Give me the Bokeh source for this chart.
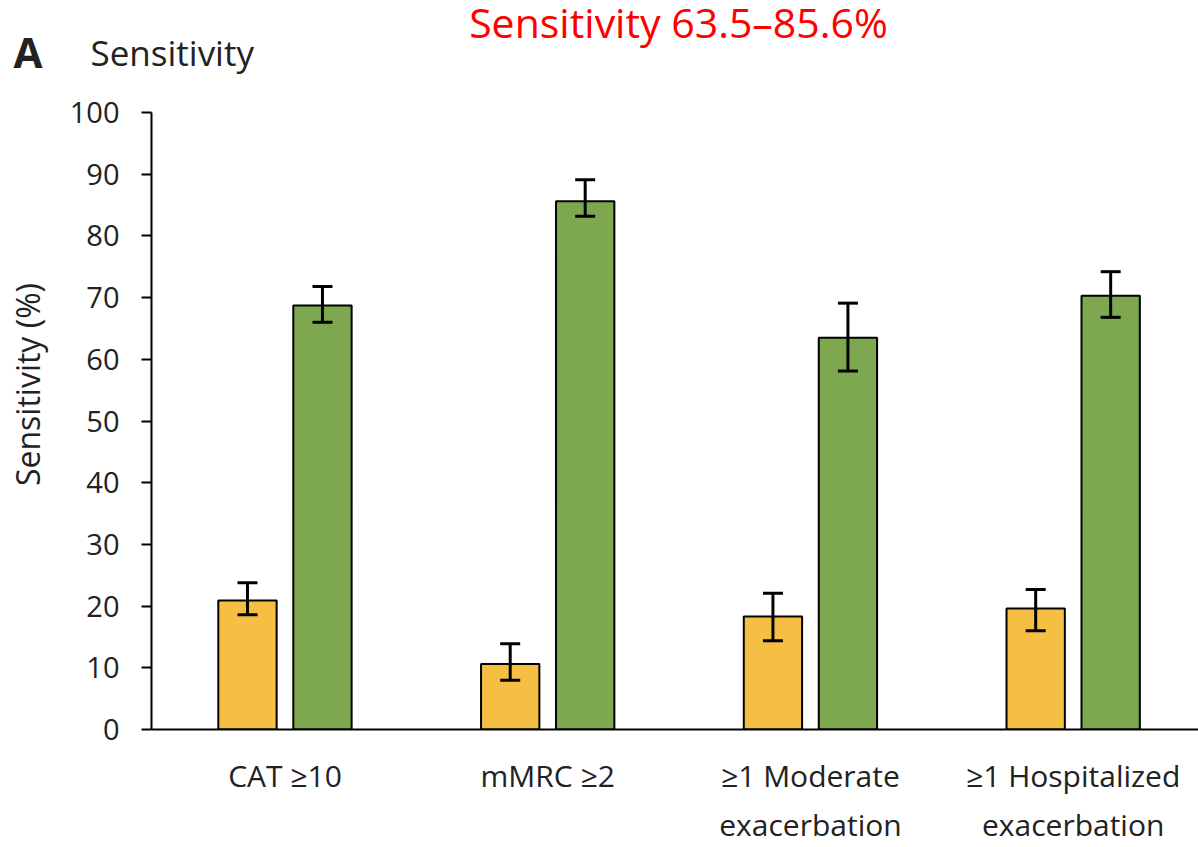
import math
from bokeh.plotting import figure
from bokeh.layouts import column, row
from bokeh.models import (ColumnDataSource, Range1d, FixedTicker, LinearAxis,
                          Whisker, TeeHead, Label)
from bokeh.transform import dodge
from bokeh.embed import file_html
from bokeh.resources import INLINE

# ---- data ----
categories = ["CAT \u226510", "mMRC \u22652",
              "\u22651 Moderate\nexacerbation", "\u22651 Hospitalized\nexacerbation"]
yellow = [20.9, 10.6, 18.3, 19.6]
yellow_lo = [18.6, 8.0, 14.4, 16.0]
yellow_hi = [23.8, 13.9, 22.1, 22.7]
green = [68.7, 85.6, 63.5, 70.3]
green_lo = [66.0, 83.2, 58.1, 66.8]
green_hi = [71.8, 89.1, 69.1, 74.2]
y_ticks = [0, 10, 20, 30, 40, 50, 60, 70, 80, 90, 100]

panel_letter = "A"
panel_name = "Sensitivity"
headline = "Sensitivity 63.5\u201385.6%"
y_label = "Sensitivity (%)"

FONT = "Open Sans"
YEL = "#F5BF43"
GRN = "#7EA84F"
INK = "#222222"

W, H = 1198, 847
HEAD_H = 80
STRIP_W = 60


def blank(width, height):
    f = figure(width=width, height=height, output_backend="svg", toolbar_location=None,
               x_range=Range1d(0, 1), y_range=Range1d(0, 1),
               x_axis_location=None, y_axis_location=None, min_border=0)
    f.frame_align = False
    f.outline_line_color = None
    f.xgrid.visible = False
    f.ygrid.visible = False
    return f


# ---- header strip (texts above the chart) ----
head = blank(W, HEAD_H)
for kw in [
    dict(x=13, y=51, text=panel_letter, text_font_style="bold",
         text_font_size="42px", text_color=INK),
    dict(x=90, y=52, text=panel_name, text_font_size="35px", text_color=INK),
    dict(x=678, y=21, text=headline, text_font_size="41px", text_color="#FF0000",
         text_align="center"),
]:
    head.add_layout(Label(x_units="canvas", y_units="canvas", text_font=FONT,
                          text_baseline="alphabetic", **kw))

# ---- left strip with the rotated y label ----
strip = blank(STRIP_W, H - HEAD_H)
strip.add_layout(Label(x_units="canvas", y_units="canvas", x=27, y=384 - HEAD_H,
                       text=y_label, angle=math.pi / 2, text_align="center",
                       text_baseline="middle", text_font=FONT,
                       text_font_size="32px", text_color=INK))

# ---- main chart ----
xc = [i + 0.5 for i in range(len(categories))]
src = ColumnDataSource(dict(xc=xc, yellow=yellow, ylo=yellow_lo, yhi=yellow_hi,
                            green=green, glo=green_lo, ghi=green_hi))

p = figure(width=W - STRIP_W, height=H - HEAD_H, output_backend="svg",
           toolbar_location=None,
           x_range=Range1d(-0.008, 3.977), y_range=Range1d(0, 100),
           x_axis_location=None, y_axis_location=None,
           min_border_left=151 - STRIP_W, min_border_right=0,
           min_border_top=112 - HEAD_H, min_border_bottom=112)
p.frame_align = False
p.outline_line_color = None
p.xgrid.visible = False
p.ygrid.visible = False

off = 0.1427
bw = 0.222
p.vbar(x=dodge("xc", -off), top="yellow", width=bw, source=src,
       fill_color=YEL, line_color="black", line_width=2)
p.vbar(x=dodge("xc", off), top="green", width=bw, source=src,
       fill_color=GRN, line_color="black", line_width=2)

for base, lo, hi in [(-off, "ylo", "yhi"), (off, "glo", "ghi")]:
    w = Whisker(base=dodge("xc", base), lower=lo, upper=hi, source=src,
                line_color="black", line_width=3, level="overlay",
                upper_head=TeeHead(size=20, line_color="black", line_width=3),
                lower_head=TeeHead(size=20, line_color="black", line_width=3))
    p.add_layout(w)

# y axis
yax = LinearAxis(ticker=FixedTicker(ticks=y_ticks))
yax.axis_line_color = "black"
yax.axis_line_width = 2
yax.major_tick_line_color = "black"
yax.major_tick_line_width = 2
yax.major_tick_out = 10
yax.major_tick_in = 0
yax.minor_tick_line_color = None
yax.major_label_text_font = FONT
yax.major_label_text_font_size = "29px"
yax.major_label_text_color = INK
yax.major_label_standoff = 22
p.add_layout(yax, "left")

# x axis
xax = LinearAxis(ticker=FixedTicker(ticks=xc))
xax.major_label_overrides = {x: c for x, c in zip(xc, categories)}
xax.axis_line_color = "black"
xax.axis_line_width = 2
xax.major_tick_line_color = None
xax.minor_tick_line_color = None
xax.major_tick_out = 0
xax.major_tick_in = 0
xax.major_label_text_font = FONT
xax.major_label_text_font_size = "30px"
xax.major_label_text_color = INK
xax.major_label_standoff = 25
p.add_layout(xax, "below")

layout = column(head, row(strip, p, spacing=0), spacing=0)
open("out.html", "w").write(file_html(layout, INLINE))
